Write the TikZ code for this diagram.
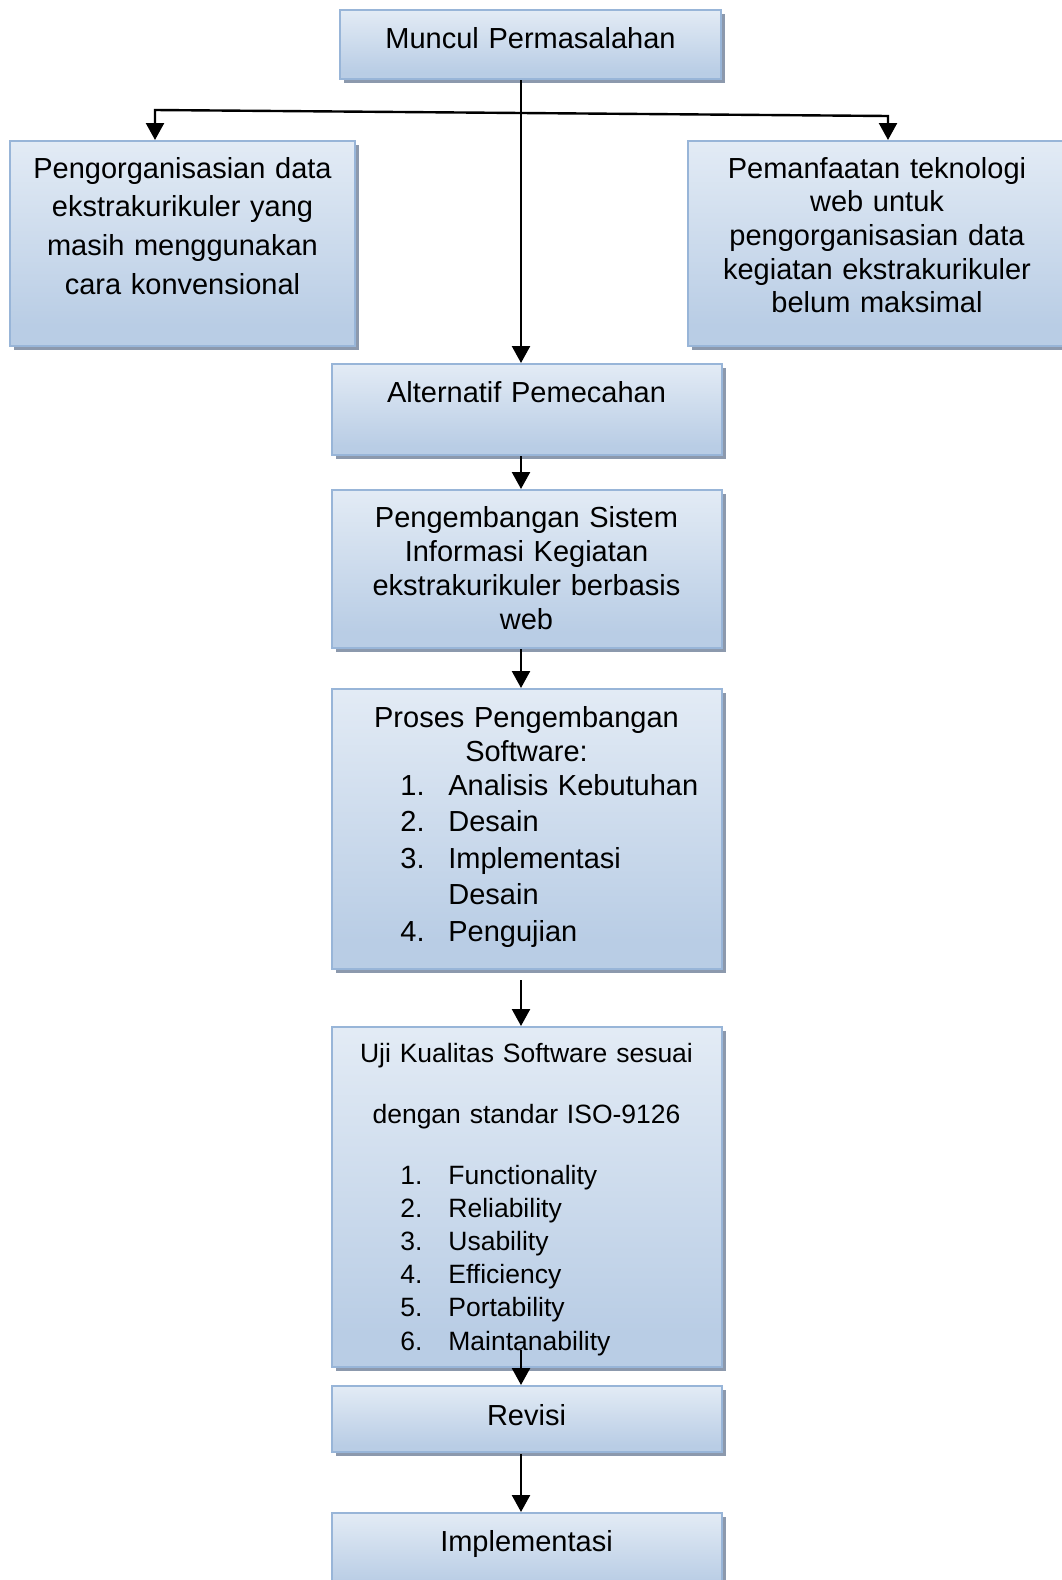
\documentclass[tikz,border=0pt]{standalone}
\usepackage{fontspec}
\setmainfont{Liberation Sans}
\usetikzlibrary{arrows.meta,shadows}

\definecolor{botc}{RGB}{185,205,229}
\definecolor{topc}{RGB}{250,252,254}
\definecolor{bordc}{RGB}{152,181,216}
\definecolor{shadc}{RGB}{140,153,173}
\pgfdeclareverticalshading{boxshade}{100bp}{color(0bp)=(botc); color(30bp)=(botc); color(100bp)=(topc)}

\newcommand\itm[1]{\makebox[24pt][l]{#1}}

\tikzset{
  box/.style={draw=bordc, line width=1pt, shade, shading=boxshade, inner sep=0pt,
    drop shadow={shadow xshift=2pt, shadow yshift=-2pt, fill=shadc, opacity=1}},
  txt/.style={inner sep=0pt, anchor=base, align=center},
  lst/.style={inner sep=0pt, anchor=base west, align=left, text width=170pt},
  tip/.tip={Triangle[width=9pt,length=8.5pt]},
  arr/.style={line width=1.2pt, -tip},
  arrb/.style={line width=1.2pt, tip-tip}
}

\begin{document}
\begin{tikzpicture}[x=0.5pt, y=-0.5pt]
\useasboundingbox (0,0) rectangle (1061,1580);

% boxes
\node[box, minimum width=190.5pt, minimum height=34.5pt] (top) at (530.5,44.5) {};
\node[box, minimum width=172.5pt, minimum height=102.5pt] (left) at (182.5,243.5) {};
\node[box, minimum width=189pt, minimum height=102.5pt] (right) at (877,243.5) {};
\node[box, minimum width=195pt, minimum height=45.5pt] (alt) at (526.5,409.5) {};
\node[box, minimum width=195pt, minimum height=79pt] (dev) at (526.5,569) {};
\node[box, minimum width=195pt, minimum height=140pt] (proc) at (526.5,829) {};
\node[box, minimum width=195pt, minimum height=170pt] (uji) at (526.5,1197) {};
\node[box, minimum width=195pt, minimum height=33pt] (rev) at (526.5,1419) {};
\node[box, minimum width=195pt, minimum height=38.5pt] (impl) at (526.5,1551.5) {};

% texts
\node[txt, text width=190pt, font={\fontsize{14.5pt}{17pt}\selectfont}] (ttop) at (530.5,48) {Muncul Permasalahan};
\node[txt, text width=172pt, font={\fontsize{14.5pt}{19.4pt}\selectfont}] (tleft) at (182.5,178)
  {Pengorganisasian data\\ ekstrakurikuler yang\\ masih menggunakan\\ cara konvensional};
\node[txt, text width=189pt, font={\fontsize{14.5pt}{16.85pt}\selectfont}] (tright) at (877,178)
  {Pemanfaatan teknologi\\ web untuk\\ pengorganisasian data\\ kegiatan ekstrakurikuler\\ belum maksimal};
\node[txt, text width=195pt, font={\fontsize{14.5pt}{17pt}\selectfont}] (talt) at (526.5,402) {Alternatif Pemecahan};
\node[txt, text width=195pt, font={\fontsize{14.5pt}{17pt}\selectfont}] (tdev) at (526.5,527)
  {Pengembangan Sistem\\ Informasi Kegiatan\\ ekstrakurikuler berbasis\\ web};
\node[txt, text width=195pt, font={\fontsize{14.5pt}{17pt}\selectfont}] (tproc) at (526.5,727)
  {Proses Pengembangan\\ Software:};
\node[lst, font={\fontsize{14.5pt}{18.25pt}\selectfont}] (lproc) at (400,795)
  {\itm{1.}Analisis Kebutuhan\\ \itm{2.}Desain\\ \itm{3.}Implementasi\\ \itm{}Desain\\ \itm{4.}Pengujian};
\node[txt, text width=195pt, font={\fontsize{13.25pt}{30.5pt}\selectfont}] (tuji) at (526.5,1062)
  {Uji Kualitas Software sesuai\\ dengan standar ISO-9126};
\node[lst, font={\fontsize{13.25pt}{16.6pt}\selectfont}] (luji) at (400,1184)
  {\itm{1.}Functionality\\ \itm{2.}Reliability\\ \itm{3.}Usability\\ \itm{4.}Efficiency\\ \itm{5.}Portability\\ \itm{6.}Maintanability};
\node[txt, text width=195pt, font={\fontsize{14.5pt}{17pt}\selectfont}] (trev) at (526.5,1425) {Revisi};
\node[txt, text width=195pt, font={\fontsize{14.5pt}{17pt}\selectfont}] (timpl) at (526.5,1551) {Implementasi};

% connector points
\coordinate (spine) at (521,0);
\coordinate (bl) at (155,110);
\coordinate (br) at (888,116);
\coordinate (s4) at (521,980);
\coordinate (s5) at (521,1350);
\coordinate (s6) at (521,1454);

% connectors
\draw[arr] (top.south -| spine) -- (alt.north -| spine);
\draw[arrb] (left.north -| bl) -- (bl) -- (br) -- (right.north -| br);
\draw[arr] (alt.south -| spine) -- (dev.north -| spine);
\draw[arr] (dev.south -| spine) -- (proc.north -| spine);
\draw[arr] (s4) -- (uji.north -| spine);
\draw[arr] (s5) -- (rev.north -| spine);
\draw[arr] (s6) -- (impl.north -| spine);
\end{tikzpicture}
\end{document}
